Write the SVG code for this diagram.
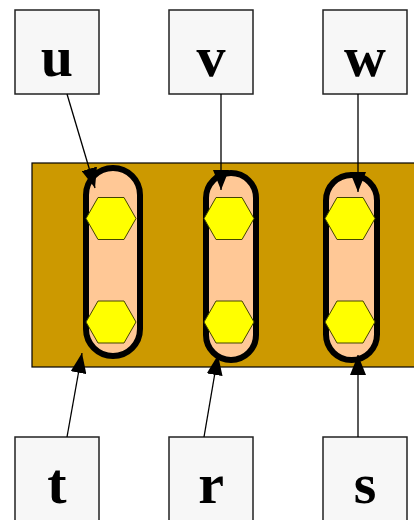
<svg xmlns="http://www.w3.org/2000/svg" width="414" height="520" viewBox="0 0 414 520">
  <style>
    .box { fill: #f7f7f7; stroke: #222; stroke-width: 1.5; }
    .label { font-family: "Liberation Serif", "Times New Roman", serif; font-weight: bold; font-size: 58px; text-anchor: middle; fill: #000; }
    .board { fill: #cc9900; stroke: #000; stroke-width: 1.2; }
    .pill { fill: #ffc896; stroke: #000; stroke-width: 6; }
    .hex { fill: #ffff00; stroke: #444400; stroke-width: 1; }
    .edge { stroke: #000; stroke-width: 1.3; fill: none; marker-end: url(#arrow); }
  </style>
  <defs>
    <marker id="arrow" viewBox="0 0 20 16" refX="20" refY="8" markerWidth="20" markerHeight="16" markerUnits="userSpaceOnUse" orient="auto">
      <path d="M0,0 L20,8 L0,16 Z" fill="#000"/>
    </marker>
    <polygon id="hexagon" points="-25,0 -13,-21 13,-21 25,0 13,21 -13,21"/>
  </defs>

  <!-- board with three slots -->
  <g id="board">
    <rect class="board" x="32" y="163" width="390" height="204"/>
  </g>

  <g id="slot1">
    <rect class="pill" x="86" y="168" width="54" height="188" rx="27"/>
    <use href="#hexagon" class="hex" x="111" y="218.5"/>
    <use href="#hexagon" class="hex" x="111" y="322"/>
  </g>
  <g id="slot2">
    <rect class="pill" x="206" y="173" width="50" height="187" rx="25"/>
    <use href="#hexagon" class="hex" x="229" y="218.5"/>
    <use href="#hexagon" class="hex" x="229" y="322"/>
  </g>
  <g id="slot3">
    <rect class="pill" x="326" y="175" width="51" height="185" rx="25.5"/>
    <use href="#hexagon" class="hex" x="350" y="218.5"/>
    <use href="#hexagon" class="hex" x="350" y="322"/>
  </g>

  <!-- labelled boxes -->
  <g id="u"><rect class="box" x="15" y="10" width="84" height="84"/><text class="label" x="57" y="76">u</text></g>
  <g id="v"><rect class="box" x="169" y="10" width="84" height="84"/><text class="label" x="211" y="76">v</text></g>
  <g id="w"><rect class="box" x="323" y="10" width="84" height="84"/><text class="label" x="365" y="76">w</text></g>
  <g id="t"><rect class="box" x="15" y="437" width="84" height="84"/><text class="label" x="57" y="503">t</text></g>
  <g id="r"><rect class="box" x="169" y="437" width="84" height="84"/><text class="label" x="211" y="503">r</text></g>
  <g id="s"><rect class="box" x="323" y="437" width="84" height="84"/><text class="label" x="365" y="503">s</text></g>

  <!-- connectors -->
  <g id="edges">
    <line class="edge" x1="67" y1="94" x2="95" y2="188"/>
    <line class="edge" x1="221" y1="94" x2="221" y2="190"/>
    <line class="edge" x1="358" y1="94" x2="358" y2="192"/>
    <line class="edge" x1="67" y1="437" x2="82" y2="353"/>
    <line class="edge" x1="204" y1="437" x2="218" y2="355"/>
    <line class="edge" x1="358" y1="437" x2="358" y2="355"/>
  </g>
</svg>
